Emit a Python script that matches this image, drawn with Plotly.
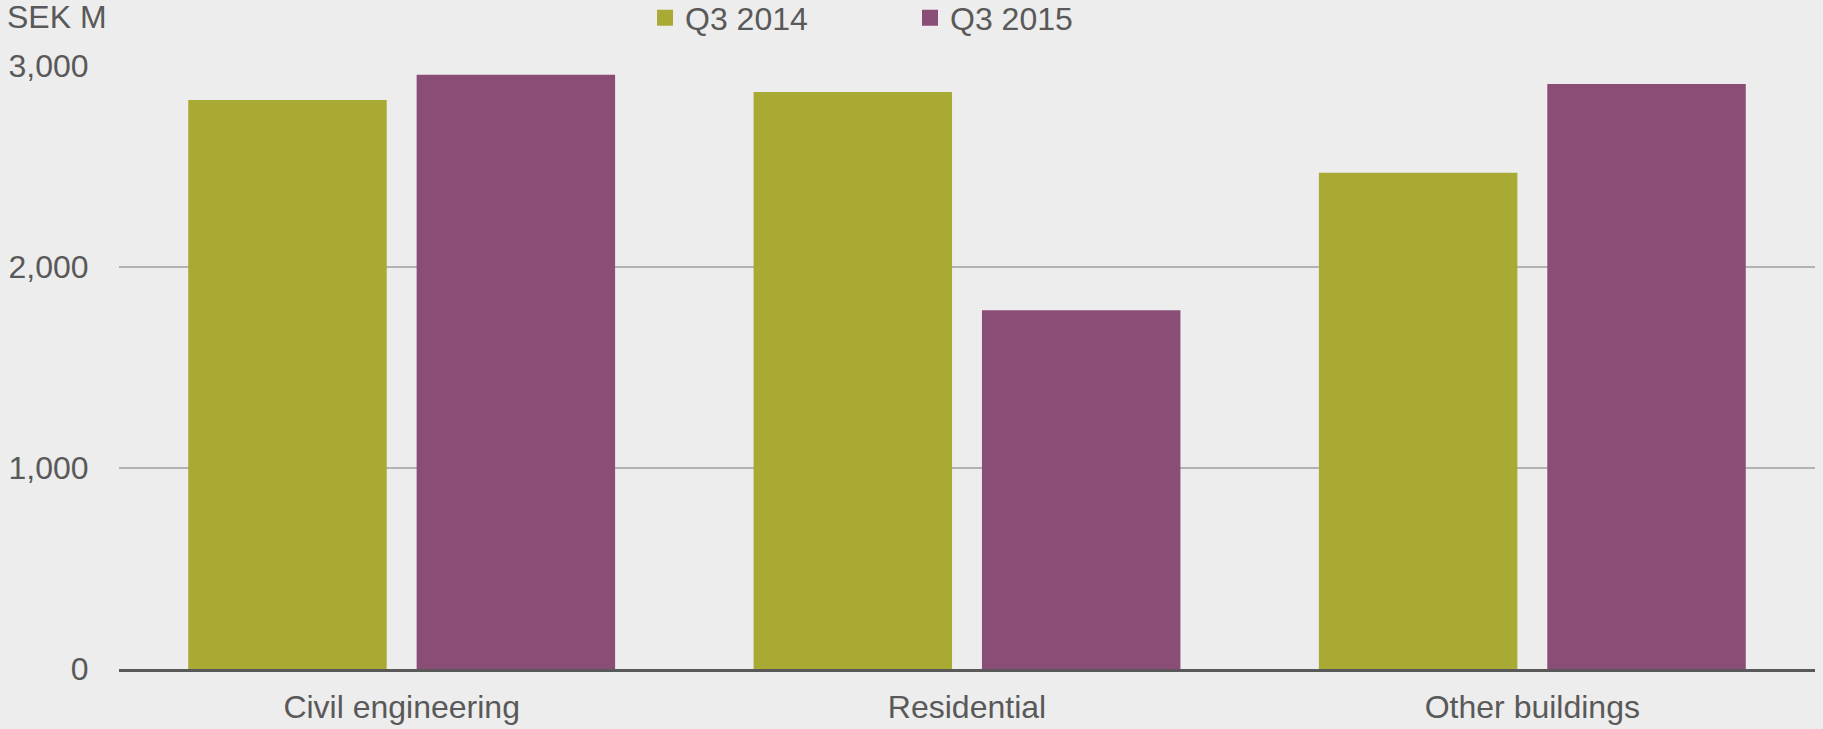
import plotly.graph_objects as go

categories = ["Civil engineering", "Residential", "Other buildings"]
q3_2014 = [2831, 2871, 2469]
q3_2015 = [2956, 1785, 2911]
series_names = ["Q3 2014", "Q3 2015"]
y_ticks = [0, 1000, 2000, 3000]
y_tick_labels = ["0", "1,000", "2,000", "3,000"]

OLIVE = "#a9aa33"
PURPLE = "#8a4d75"
TEXT = "#595959"
BG = "#ededed"
FONT = "Liberation Sans, Arial, sans-serif"

fig = go.Figure()
for name, vals, col in [(series_names[0], q3_2014, OLIVE), (series_names[1], q3_2015, PURPLE)]:
    fig.add_trace(go.Bar(x=categories, y=vals, name=name, marker=dict(color=col, line=dict(width=0)),
                         showlegend=False, legendgroup=name))
    fig.add_trace(go.Scatter(x=[None], y=[None], mode="markers", name=name, legendgroup=name,
                             marker=dict(symbol="square", size=17, color=col), showlegend=True))

fig.update_layout(
    width=1823, height=729,
    paper_bgcolor=BG, plot_bgcolor=BG,
    font=dict(family=FONT, size=32, color=TEXT),
    margin=dict(l=119, r=8, t=66, b=60, pad=0, autoexpand=False),
    bargap=0.192, bargroupgap=0.131,
    barmode="group",
    title=dict(text="SEK M", x=7/1823, xanchor="left", xref="container",
               y=1-17/729, yanchor="middle", yref="container", automargin=False,
               font=dict(family=FONT, size=32, color=TEXT)),
    legend=dict(orientation="h", x=645/1823, xanchor="left", xref="container",
                y=1 + 75.5/602.5, yanchor="top", yref="paper",
                font=dict(family=FONT, size=32, color=TEXT),
                bgcolor="rgba(0,0,0,0)", entrywidth=220, entrywidthmode="pixels",
                itemclick=False, tracegroupgap=0),
    xaxis=dict(showline=True, linecolor=TEXT, linewidth=3, ticks="outside", ticklen=8,
               tickcolor="rgba(0,0,0,0)", showgrid=False, zeroline=False, automargin=False),
    yaxis=dict(range=[0, 3000], tickvals=y_ticks, ticktext=y_tick_labels,
               showgrid=True, gridcolor="#b2b2b2", gridwidth=1.7, zeroline=False,
               showline=False, ticks="outside", ticklen=23, tickcolor="rgba(0,0,0,0)",
               automargin=False),
)

fig.write_html("out.html", config={"displayModeBar": False},
               post_script="document.body.style.margin='0px';document.body.style.overflow='hidden';")
